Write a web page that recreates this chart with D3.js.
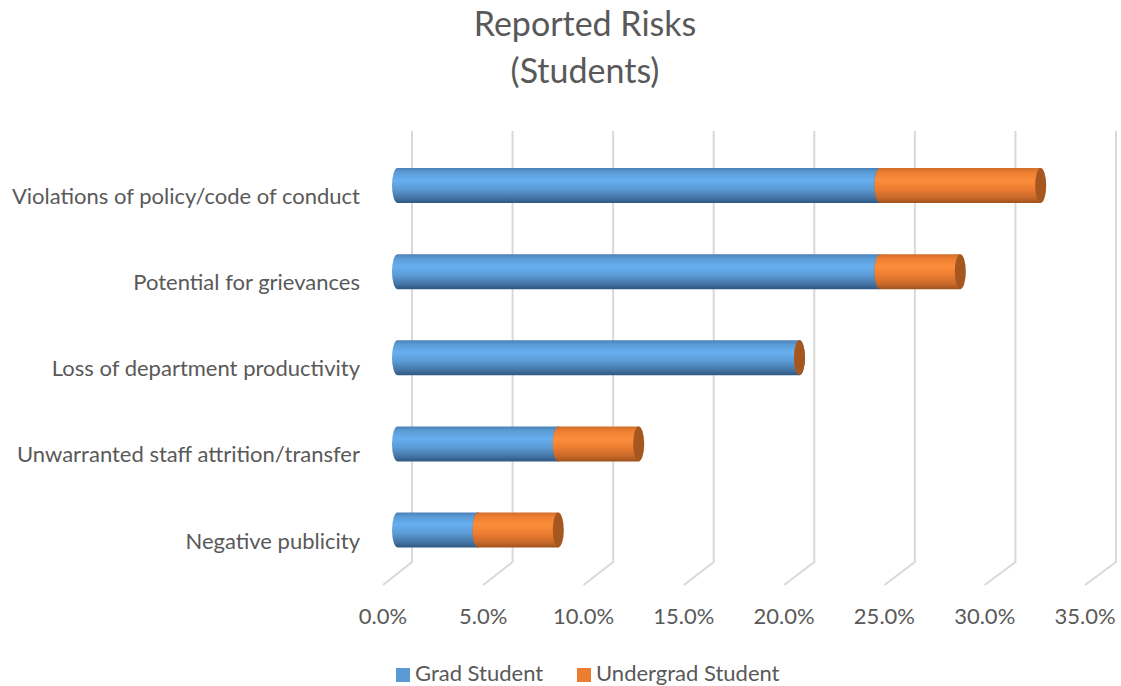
<!DOCTYPE html>
<html><head><meta charset="utf-8">
<script src="https://cdn.jsdelivr.net/npm/d3@7"></script>
<style>
html,body{margin:0;padding:0;background:#fff;}
svg{display:block;font-family:Lato,"Open Sans",sans-serif;}
</style></head>
<body>
<script>
const categories = ["Violations of policy/code of conduct","Potential for grievances","Loss of department productivity","Unwarranted staff attrition/transfer","Negative publicity"];
const seriesNames = ["Grad Student","Undergrad Student"];
const gradValues = [0.24,0.24,0.20,0.08,0.04];
const undergradValues = [0.08,0.04,0.00,0.04,0.04];
const tickValues = [0,0.05,0.10,0.15,0.20,0.25,0.30,0.35];
const titleLines = ["Reported Risks","(Students)"];

const W=1121,H=686;
const svg=d3.select("body").append("svg").attr("width",W).attr("height",H);
const defs=svg.append("defs");

function grad(id,stops){
  const g=defs.append("linearGradient").attr("id",id).attr("x1",0).attr("y1",0).attr("x2",0).attr("y2",1);
  stops.forEach(s=>g.append("stop").attr("offset",s[0]).attr("stop-color",s[1]));
}
grad("gBlue",[[0,"#4a7fb8"],[0.12,"#5b9bd5"],[0.35,"#67aff0"],[0.6,"#5b9bd5"],[0.85,"#4575a5"],[1,"#2f5780"]]);
grad("gOrange",[[0,"#cf6e2a"],[0.12,"#ed7d31"],[0.35,"#fb8e3b"],[0.6,"#ed7d31"],[0.85,"#c8692a"],[1,"#a0521c"]]);
const fills=["url(#gBlue)","url(#gOrange)"];
const capFills=["#3e6d9c","#a5571f"];
const legendColors=["#5b9bd5","#ed7d31"];

const xBack=d3.scaleLinear().domain([0,0.35]).range([412,1116]);
const xMid=d3.scaleLinear().domain([0,0.35]).range([397.5,1101]);
const xFront=d3.scaleLinear().domain([0,0.35]).range([383,1085]);
const y=d3.scalePoint().domain(categories).range([185.5,530]);
const barH=35, capRx=5.5;
const wallTop=131, wallBottom=562, floorFront=585;

// gridlines (back wall + floor)
const grid=svg.append("g");
tickValues.forEach(t=>{
  grid.append("path")
    .attr("d",`M${xBack(t)},${wallTop}L${xBack(t)},${wallBottom}L${xFront(t)},${floorFront}`)
    .attr("fill","none").attr("stroke","#d9d9d9").attr("stroke-width",2);
});

// stacked data
const stack=categories.map((c,i)=>{
  const vals=[gradValues[i],undergradValues[i]];
  let acc=0;
  return vals.map((v,s)=>{const o={c,s,x0:acc,x1:acc+v};acc+=v;return o;});
});

const bars=svg.append("g");
stack.forEach(row=>{
  row.forEach(seg=>{
    const cy=y(seg.c), top=cy-barH/2;
    const a=xMid(seg.x0), b=xMid(seg.x1);
    const g=bars.append("g");
    g.append("path")
      .attr("d",`M${a},${top} A${capRx},${barH/2} 0 0 0 ${a},${top+barH} L${b},${top+barH} L${b},${top} Z`)
      .attr("fill",fills[seg.s]);
    g.append("ellipse").attr("cx",b).attr("cy",cy).attr("rx",capRx).attr("ry",barH/2)
      .attr("fill",capFills[seg.s]);
  });
});

// category labels
svg.append("g").selectAll("text").data(categories).join("text")
  .attr("x",360).attr("y",d=>y(d)+13).attr("text-anchor","end").attr("dominant-baseline","middle")
  .attr("font-size",22).attr("fill","#595959").text(d=>d);

// axis labels
const fmt=d3.format(".1%");
svg.append("g").selectAll("text").data(tickValues).join("text")
  .attr("x",d=>xFront(d)).attr("y",618).attr("text-anchor","middle").attr("dominant-baseline","middle")
  .attr("font-size",22).attr("fill","#595959").text(d=>fmt(d));

// title
svg.append("g").selectAll("text").data(titleLines).join("text")
  .attr("x",585).attr("y",(d,i)=>27+i*47).attr("text-anchor","middle").attr("dominant-baseline","middle")
  .attr("font-size",34).attr("fill","#595959").text(d=>d);

// legend
const legX=[396,577];
const leg=svg.append("g");
seriesNames.forEach((n,i)=>{
  leg.append("rect").attr("x",legX[i]).attr("y",668).attr("width",14).attr("height",14).attr("fill",legendColors[i]);
  leg.append("text").attr("x",legX[i]+19).attr("y",675).attr("dominant-baseline","middle")
    .attr("font-size",22).attr("fill","#595959").text(n);
});
</script>
</body></html>
